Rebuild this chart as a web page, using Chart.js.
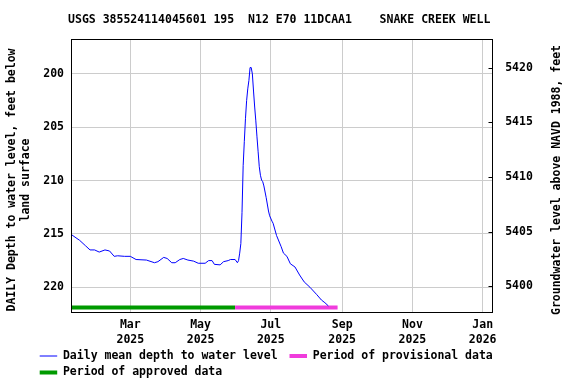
<!DOCTYPE html>
<html>
<head>
<meta charset="utf-8">
<script src="https://cdn.jsdelivr.net/npm/chart.js@4.4.1/dist/chart.umd.min.js"></script>
<style>
  html, body { margin: 0; padding: 0; background: #fff; }
  #wrap { width: 576px; height: 384px; }
</style>
</head>
<body>
<div id="wrap"><canvas id="gw_chart"></canvas></div>
<script>
// daily mean depth to water, feet below land surface
const dates = [
  '2025-01-08', '2025-01-12', '2025-01-16', '2025-01-21', '2025-01-25', '2025-01-29',
  '2025-02-02', '2025-02-07', '2025-02-11', '2025-02-15', '2025-02-18', '2025-02-24',
  '2025-03-01', '2025-03-06', '2025-03-15', '2025-03-22', '2025-03-25', '2025-03-30',
  '2025-04-02', '2025-04-06', '2025-04-09', '2025-04-13', '2025-04-16', '2025-04-20',
  '2025-04-25', '2025-04-29', '2025-05-05', '2025-05-08', '2025-05-11', '2025-05-13',
  '2025-05-18', '2025-05-21', '2025-05-25', '2025-05-27', '2025-05-31', '2025-06-02',
  '2025-06-03', '2025-06-04', '2025-06-05', '2025-06-06', '2025-06-07', '2025-06-08',
  '2025-06-09', '2025-06-10', '2025-06-11', '2025-06-12', '2025-06-13', '2025-06-14',
  '2025-06-15', '2025-06-16', '2025-06-17', '2025-06-18', '2025-06-19', '2025-06-20',
  '2025-06-21', '2025-06-22', '2025-06-23', '2025-06-24', '2025-06-25', '2025-06-27',
  '2025-06-29', '2025-06-30', '2025-07-02', '2025-07-03', '2025-07-06', '2025-07-10',
  '2025-07-12', '2025-07-15', '2025-07-18', '2025-07-22', '2025-07-26', '2025-07-30',
  '2025-08-04', '2025-08-10', '2025-08-14', '2025-08-17', '2025-08-20'
];
const depth = [
  215.0, 215.3, 215.6, 216.1, 216.5, 216.5,
  216.7, 216.5, 216.6, 217.1, 217.05, 217.1,
  217.1, 217.4, 217.45, 217.7, 217.6, 217.2,
  217.3, 217.7, 217.7, 217.4, 217.3, 217.45,
  217.55, 217.75, 217.75, 217.5, 217.5, 217.85,
  217.9, 217.6, 217.5, 217.4, 217.4, 217.7,
  217.5, 216.8, 215.9, 213.0, 208.6, 206.35,
  204.2, 202.5, 201.4, 200.6, 199.4, 199.4,
  200.0, 201.6, 203.1, 204.4, 205.9, 207.3,
  208.7, 209.5, 209.95, 210.1, 210.5, 211.6,
  212.85, 213.3, 213.8, 214.0, 215.15, 216.2,
  216.8, 217.1, 217.8, 218.1, 218.85, 219.5,
  220.0, 220.7, 221.2, 221.45, 221.75
];

const approvedPeriod = ['2025-01-08', '2025-05-31'];
const provisionalPeriod = ['2025-05-31', '2025-08-28'];
const periodDepth = 221.9;

const leftTicks = [200, 205, 210, 215, 220];
const rightTicks = [5400, 5405, 5410, 5415, 5420];
const monthTicks = ['2025-03-01', '2025-05-01', '2025-07-01', '2025-09-01', '2025-11-01', '2026-01-01'];
const monthLabels = [['Mar', '2025'], ['May', '2025'], ['Jul', '2025'], ['Sep', '2025'], ['Nov', '2025'], ['Jan', '2026']];

const titleText = 'USGS 385524114045601 195  N12 E70 11DCAA1    SNAKE CREEK WELL';
const leftTitle = ['DAILY Depth to water level, feet below', 'land surface'];
const rightTitle = 'Groundwater level above NAVD 1988, feet';

function toDay(s) {
  return (Date.parse(s) - Date.parse('2025-01-01')) / 86400000;
}

const monoFont = "'DejaVu Sans Mono', monospace";
Chart.defaults.font.family = monoFont;
Chart.defaults.font.size = 11.5;
Chart.defaults.font.weight = 'bold';
Chart.defaults.color = '#000';

const framePlugin = {
  id: 'frame',
  afterLayout(chart) {
    const lg = chart.legend;
    lg.left += 34.7;
    lg.right += 34.7;
    lg.top = 345.25;
    lg.bottom = lg.top + 44;
    const tb = chart.titleBlock;
    tb.left -= 8.8;
    tb.right -= 8.8;
  },
  afterDraw(chart) {
    const ctx = chart.ctx;
    const {left, top, right, bottom} = chart.chartArea;
    const l = Math.floor(left) + 0.5, t = Math.floor(top) + 0.5;
    const r = Math.floor(right) + 0.5, b = Math.floor(bottom) + 0.5;
    ctx.save();
    ctx.strokeStyle = '#000';
    ctx.lineWidth = 1;
    ctx.strokeRect(l, t, r - l, b - t);
    // inward ticks on the right axis
    const yr = chart.scales.yRight;
    ctx.beginPath();
    rightTicks.forEach(v => {
      const y = Math.round(yr.getPixelForValue(v)) + 0.5;
      ctx.moveTo(r - 4, y);
      ctx.lineTo(r, y);
    });
    ctx.stroke();
    ctx.font = 'bold 11.5px ' + monoFont;
    ctx.fillStyle = '#000';
    ctx.textAlign = 'center';
    ctx.textBaseline = 'middle';
    // both axis titles read bottom to top
    ctx.save();
    ctx.translate(12.5, 180);
    ctx.rotate(-Math.PI / 2);
    ctx.fillText(leftTitle[0], 0, 0);
    ctx.fillText(leftTitle[1], 0, 13.5);
    ctx.restore();
    ctx.translate(557, 180);
    ctx.rotate(-Math.PI / 2);
    ctx.fillText(rightTitle, 0, 0);
    ctx.restore();
  }
};

const ctx = document.getElementById('gw_chart');

const data = {
  datasets: [{
    label: 'Daily mean depth to water level ',
    data: dates.map((d, i) => ({x: toDay(d), y: depth[i]})),
    borderColor: '#0000ff',
    backgroundColor: '#0000ff',
    borderWidth: 1,
    pointRadius: 0,
    tension: 0,
    yAxisID: 'y',
    legendWidth: 1
  }, {
    label: 'Period of provisional data',
    data: provisionalPeriod.map(d => ({x: toDay(d), y: periodDepth})),
    borderColor: '#f03cdc',
    backgroundColor: '#f03cdc',
    borderWidth: 4,
    pointRadius: 0,
    yAxisID: 'y',
    legendWidth: 4
  }, {
    label: 'Period of approved data',
    data: approvedPeriod.map(d => ({x: toDay(d), y: periodDepth})),
    borderColor: '#009a00',
    backgroundColor: '#009a00',
    borderWidth: 4,
    pointRadius: 0,
    yAxisID: 'y',
    legendWidth: 4
  }]
};

const confg = {
  type: 'line',
  data,
  plugins: [framePlugin],
  options: {
    responsive: true,
    maintainAspectRatio: false,
    animation: false,
    devicePixelRatio: 1,
    layout: { padding: 0 },
    scales: {
      x: {
        type: 'linear',
        min: 7.5,
        max: 373.7,
        afterBuildTicks: s => { s.ticks = monthTicks.map(d => ({value: toDay(d)})); },
        afterFit: s => { s.height = 40; },
        ticks: {
          autoSkip: false,
          maxRotation: 0,
          padding: 6,
          font: { lineHeight: 1.28 },
          callback: (v, i) => monthLabels[i]
        },
        grid: { color: '#cccccc', drawTicks: false },
        border: { display: false }
      },
      y: {
        type: 'linear',
        position: 'left',
        reverse: true,
        min: 196.75,
        max: 222.32,
        afterBuildTicks: s => { s.ticks = leftTicks.map(v => ({value: v})); },
        afterFit: s => { s.width = 71; },
        ticks: { padding: 7, callback: v => String(v) },
        grid: { color: '#cccccc', drawTicks: false },
        border: { display: false }
      },
      yRight: {
        type: 'linear',
        position: 'right',
        min: 5397.65,
        max: 5422.6,
        afterBuildTicks: s => { s.ticks = rightTicks.map(v => ({value: v})); },
        afterFit: s => { s.width = 83.3; },
        ticks: { padding: 12.5, callback: v => String(v) },
        grid: { drawOnChartArea: false, drawTicks: false },
        border: { display: false }
      }
    },
    plugins: {
      title: {
        display: true,
        text: titleText,
        padding: { top: 13.6, bottom: 11.9 },
        font: { lineHeight: 1.2 }
      },
      legend: {
        position: 'bottom',
        align: 'start',
        maxHeight: 32,
        labels: {
          usePointStyle: true,
          pointStyleWidth: 17.5,
          padding: 5,
          generateLabels: chart => chart.data.datasets.map((ds, i) => ({
            text: ds.label,
            datasetIndex: i,
            pointStyle: 'line',
            strokeStyle: ds.borderColor,
            fillStyle: ds.borderColor,
            lineWidth: ds.legendWidth,
            fontColor: '#000',
            hidden: false
          }))
        }
      },
      tooltip: { enabled: false }
    }
  }
};

new Chart(ctx, confg);
</script>
</body>
</html>
